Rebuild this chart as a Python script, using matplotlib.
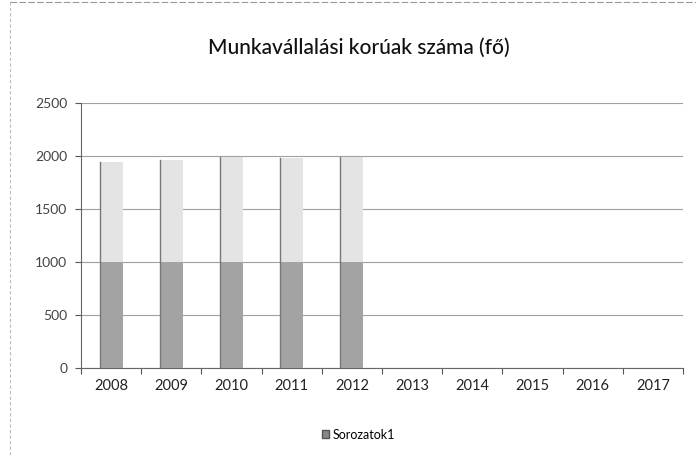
import matplotlib
matplotlib.use("Agg")
import matplotlib.pyplot as plt
from matplotlib.patches import Rectangle
from matplotlib.lines import Line2D

years = ["2008", "2009", "2010", "2011", "2012", "2013", "2014", "2015", "2016", "2017"]
values = [1947, 1962, 1987, 1978, 1994, 0, 0, 0, 0, 0]
series_name = "Sorozatok1"
title = "Munkavállalási korúak száma (fő)"
yticks = [0, 500, 1000, 1500, 2000, 2500]

plt.rcParams['font.family'] = ['Lato', 'DejaVu Sans']

fig = plt.figure(figsize=(6.96, 4.55), dpi=100)
ax = fig.add_axes([0.1164, 0.1912, 0.8649, 0.5824])

x = list(range(len(years)))
bars = ax.bar(x, values, width=0.38, color="#e4e4e4", edgecolor="none", zorder=2)
# darker lower portion (as in the scanned original)
for b in bars:
    h = b.get_height()
    if h <= 0:
        continue
    ax.add_patch(Rectangle((b.get_x(), 0), b.get_width(), min(h, 1000),
                           facecolor="#a3a3a3", edgecolor="none", zorder=3))
    ax.plot([b.get_x(), b.get_x()], [0, h], color="#777777", lw=1.0, zorder=4)

ax.set_xlim(-0.5, len(years) - 0.5)
ax.set_ylim(0, 2500)
ax.set_yticks(yticks)
ax.set_yticklabels([str(v) for v in yticks], fontsize=10, color="#444444")
ax.set_xticks(x)
ax.set_xticklabels(years, fontsize=10.5, color="#222222")
ax.tick_params(axis='x', length=0, pad=8)
ax.tick_params(axis='y', length=4, width=0.8, color="#555555", pad=6)
# category boundary ticks
ax.set_xticks([i - 0.5 for i in range(len(years) + 1)], minor=True)
ax.tick_params(axis='x', which='minor', length=4, width=0.8, color="#555555")

ax.grid(axis='y', color="#a0a0a0", lw=0.8, zorder=0)
for s in ['top', 'right']:
    ax.spines[s].set_visible(False)
ax.spines['left'].set_color("#666666")
ax.spines['bottom'].set_color("#666666")
ax.set_axisbelow(True)

fig.text(0.515, 0.895, title, ha='center', va='center', fontsize=15, color="#111111",
         fontweight='medium')

handle = Rectangle((0, 0), 1, 1, facecolor="#888888", edgecolor="#555555")
fig.legend([handle], [series_name], loc='center', bbox_to_anchor=(0.515, 0.045),
           frameon=False, fontsize=9, handlelength=0.6, handleheight=0.6,
           handletextpad=0.3)

# chart frame (faint, as in the scan)
fig.add_artist(Line2D([0.014, 0.014], [0.0, 0.995], color="#bbbbbb", lw=0.8, ls=(0, (3, 2))))
fig.add_artist(Line2D([0.014, 1.0], [0.995, 0.995], color="#999999", lw=0.8, ls=(0, (6, 2))))

fig.savefig("out.png", dpi=100)
